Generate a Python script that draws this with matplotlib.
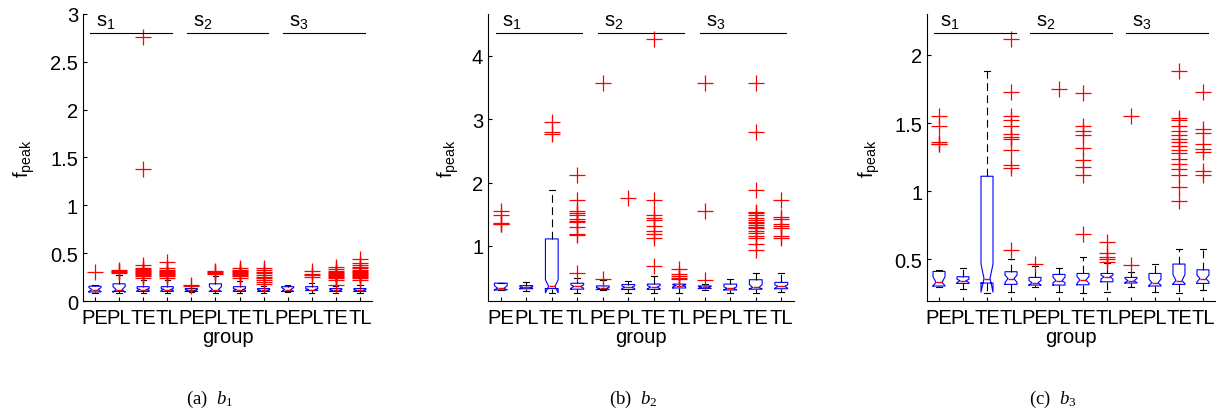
import numpy as np
import matplotlib
matplotlib.use('Agg')
from matplotlib import pyplot as plt
from matplotlib import transforms

plt.rcParams['font.family'] = ['Liberation Sans', 'DejaVu Sans']
plt.rcParams['mathtext.default'] = 'regular'
plt.rcParams['mathtext.fontset'] = 'custom'
plt.rcParams['mathtext.it'] = 'Liberation Serif:italic'
plt.rcParams['mathtext.rm'] = 'Liberation Serif'

groups = ['PE', 'PL', 'TE', 'TL'] * 3
sessions = ['s$_1$', 's$_2$', 's$_3$']

# panel (a) b1 - box stats per group
q1_a   = [.095, .10, .10, .10, .10, .10, .10, .10, .10, .11, .10, .10]
med_a  = [.12, .12, .12, .12, .11, .12, .12, .11, .12, .12, .11, .11]
q3_a   = [.155, .18, .15, .15, .13, .18, .15, .13, .15, .15, .13, .13]
wlo_a  = [.08, .08, .08, .08, .09, .08, .08, .08, .09, .08, .08, .08]
whi_a  = [.17, .27, .22, .22, .14, .26, .21, .16, .17, .19, .16, .17]
cilo_a = [.10, .09, .11, .11, .10, .10, .11, .10, .10, .11, .10, .10]
cihi_a = [.14, .15, .13, .13, .12, .15, .13, .12, .14, .13, .12, .12]
fliers_a = [
    [.30],
    [.29, .30, .31, .32],
    [.24, .26, .27, .28, .29, .30, .31, .32, .33, .34, .38, 1.38, 2.76],
    [.24, .26, .27, .28, .29, .30, .31, .32, .34, .41],
    [.16, .17],
    [.28, .29, .30, .31],
    [.24, .26, .27, .28, .29, .30, .31, .32, .35],
    [.18, .20, .22, .24, .25, .27, .29, .30, .32, .34],
    [],
    [.25, .27, .28, .31],
    [.17, .22, .24, .25, .26, .27, .28, .29, .30, .31, .33, .36],
    [.22, .24, .25, .26, .27, .28, .29, .30, .31, .32, .34, .36, .38, .40, .44],
]

# panels (b) b2 and (c) b3 - same groups, (c) is shown with a tighter y range
q1_b   = [.305, .324, .327, .317, .312, .312, .314, .336, .327, .305, .317, .324]
med_b  = [.331, .344, .36, .36, .329, .344, .349, .373, .344, .329, .344, .36]
q3_b   = [.412, .373, 1.11, .41, .368, .39, .397, .397, .368, .397, .466, .424]
wlo_b  = [.297, .285, .253, .258, .297, .263, .253, .258, .297, .263, .253, .278]
whi_b  = [.42, .434, 1.88, .50, .454, .44, .52, .473, .405, .47, .58, .58]
cilo_b = [.307, .33, .26, .331, .31, .33, .325, .355, .33, .31, .322, .335]
cihi_b = [.373, .355, .466, .385, .345, .37, .375, .385, .36, .355, .39, .385]
fliers_b = [
    [1.35, 1.35, 1.36, 1.48, 1.55],
    [],
    [2.76, 2.79, 2.96],
    [.57, 1.17, 1.19, 1.30, 1.38, 1.40, 1.42, 1.48, 1.52, 1.55, 1.73, 2.12],
    [.47, 3.57],
    [1.75],
    [.69, 1.12, 1.18, 1.23, 1.32, 1.41, 1.44, 1.48, 1.72, 4.27],
    [.48, .50, .52, .55, .63],
    [.46, 1.55, 3.57],
    [],
    [.93, 1.03, 1.12, 1.16, 1.20, 1.24, 1.28, 1.30, 1.33, 1.36, 1.38, 1.41,
     1.44, 1.48, 1.52, 1.54, 1.88, 2.80, 3.57],
    [1.12, 1.15, 1.29, 1.31, 1.35, 1.43, 1.46, 1.73],
]


def make_stats(q1, med, q3, wlo, whi, cilo, cihi, fliers):
    return [dict(q1=a, med=b, q3=c, whislo=d, whishi=e, cilo=f, cihi=g,
                 fliers=np.array(h))
            for a, b, c, d, e, f, g, h in zip(q1, med, q3, wlo, whi, cilo, cihi, fliers)]


stats_a = make_stats(q1_a, med_a, q3_a, wlo_a, whi_a, cilo_a, cihi_a, fliers_a)
stats_b = make_stats(q1_b, med_b, q3_b, wlo_b, whi_b, cilo_b, cihi_b, fliers_b)

fig = plt.figure(figsize=(12.18, 4.14), dpi=100)
bot, top = 0.2705, 0.9638
axes_pos = [(0.0681, 0.3054), (0.4007, 0.6519), (0.7611, 0.9975)]
panels = [(stats_a, (0, 3), [0, 0.5, 1, 1.5, 2, 2.5, 3], ['0', '0.5', '1', '1.5', '2', '2.5', '3'], -0.16),
          (stats_b, (0.13, 4.66), [1, 2, 3, 4], ['1', '2', '3', '4'], -0.09),
          (stats_b, (0.195, 2.30), [0.5, 1, 1.5, 2], ['0.5', '1', '1.5', '2'], -0.156)]
captions = ['(a)  $\\mathit{b}_1$', '(b)  $\\mathit{b}_2$', '(c)  $\\mathit{b}_3$']
cap_x = [210 / 1218, 633 / 1218, 1053 / 1218]

pos = np.arange(1, 13)
for (l, r), (stats, ylim, yt, ytl, ylx), cap, cx in zip(axes_pos, panels, captions, cap_x):
    ax = fig.add_axes([l, bot, r - l, top - bot])
    ax.bxp(stats, positions=pos, widths=0.5, capwidths=0.22, shownotches=True,
           boxprops=dict(color='blue', lw=0.8),
           medianprops=dict(color='red', lw=1),
           whiskerprops=dict(color='black', lw=0.8, linestyle=(0, (7, 4))),
           capprops=dict(color='black', lw=0.8),
           flierprops=dict(marker='+', markeredgecolor='red', markersize=11,
                           markeredgewidth=0.9, linestyle='none'))
    ax.set_xlim(0.5, 12.5)
    ax.set_ylim(*ylim)
    ax.set_xticks(pos)
    ax.set_xticklabels(groups)
    ax.set_yticks(yt)
    ax.set_yticklabels(ytl)
    ax.tick_params(direction='in', length=3, labelsize=14.5, width=0.8)
    ax.tick_params(axis='x', pad=5)
    ax.spines['top'].set_visible(False)
    ax.spines['right'].set_visible(False)
    ax.set_xlabel('group', fontsize=14.5, labelpad=0)
    ax.set_ylabel('f$_{peak}$', fontsize=14.5)
    ax.yaxis.set_label_coords(ylx, 0.5)
    # session brackets
    tr = transforms.blended_transform_factory(ax.transData, ax.transAxes)
    for k, s in enumerate(sessions):
        ax.plot([4 * k + 0.8, 4 * k + 4.2], [0.934, 0.934], color='black', lw=0.8,
                transform=tr, clip_on=False)
        ax.text(4 * k + 1.05, 0.958, s, transform=tr, fontsize=14.5, va='baseline', clip_on=False)
    fig.text(cx, 0.034, cap, family='Liberation Serif', fontsize=13.5, ha='center', va='center')

fig.savefig('out.png', dpi=100)
